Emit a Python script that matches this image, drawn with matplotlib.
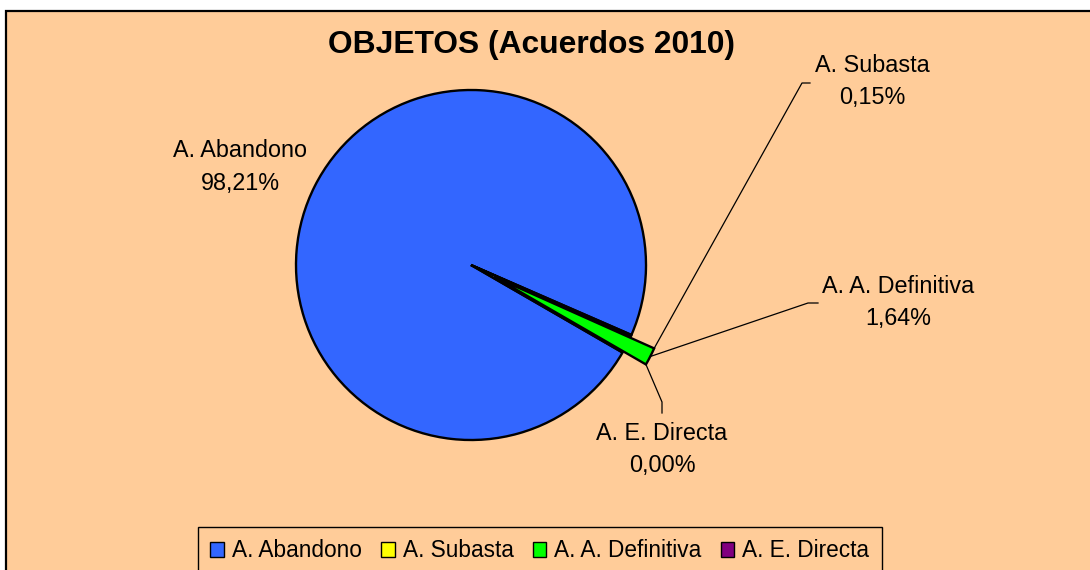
import matplotlib
matplotlib.use("Agg")
import matplotlib.pyplot as plt
from matplotlib.patches import Rectangle
import numpy as np

plt.rcParams['font.family'] = ['Liberation Sans', 'DejaVu Sans']

# datos
categorias = ['A. Abandono', 'A. Subasta', 'A. A. Definitiva', 'A. E. Directa']
porcentajes = [98.21, 0.15, 1.64, 0.00]
colores = ['#3366FF', '#FFFF00', '#00FF00', '#800080']
titulo = 'OBJETOS (Acuerdos 2010)'

W, H = 1090, 570
fig = plt.figure(figsize=(W / 100, H / 100), dpi=100)
fig.patch.set_facecolor('white')

ax = fig.add_axes([0, 0, 1, 1])
ax.patch.set_alpha(0)

# area del grafico (fondo salmon con borde)
ax.add_patch(Rectangle((6, -50), W + 100, H - 11 + 50, facecolor='#FFCC99',
                       edgecolor='black', linewidth=1.6, zorder=0, clip_on=False))

cx, cy, r = 471, H - 265, 175
wedges, _ = ax.pie(porcentajes, colors=colores, startangle=-30, counterclock=False,
                   explode=[0, 0, 0.15 * r, 0], center=(cx, cy), radius=r,
                   wedgeprops={'edgecolor': 'black', 'linewidth': 1.7, 'zorder': 2})
ax.set_xlim(0, W)
ax.set_ylim(0, H)
ax.set_aspect('auto')
ax.axis('off')

# puntos de anclaje de las lineas guia (sobre el borde exterior del sector verde)
wd = wedges[2]
wx, wy = wd.center
def borde(ang):
    return wx + wd.r * np.cos(np.radians(ang)), wy + wd.r * np.sin(np.radians(ang))

t1, t2 = wd.theta1, wd.theta2
anclas = {1: borde(t2), 2: borde((t1 + t2) / 2), 3: borde(t1)}
codos = {1: [(802, H - 83), (810, H - 83)],
         2: [(808, H - 303), (818, H - 303)],
         3: [(662, H - 402), (662, H - 413)]}
for i, p in anclas.items():
    xs = [p[0]] + [c[0] for c in codos[i]]
    ys = [p[1]] + [c[1] for c in codos[i]]
    ax.plot(xs, ys, color='black', linewidth=0.9, zorder=3)

# etiquetas: (centro x, linea base 1, linea base 2) en pixeles
pos_etq = [(240, 157, 190), (872, 72, 104), (898, 293, 325), (662, 440, 472)]
for nombre, v, (x, b1, b2) in zip(categorias, porcentajes, pos_etq):
    ax.text(x, H - b1, nombre, ha='center', va='baseline', fontsize=16.8, zorder=4)
    ax.text(x, H - b2, f'{v:.2f}%'.replace('.', ','), ha='center', va='baseline',
            fontsize=16.8, zorder=4)

ax.text(531, H - 53, titulo, ha='center', va='baseline', fontsize=22.9, fontweight='bold')

leg = fig.legend(wedges, categorias, loc='upper left', bbox_to_anchor=(198 / W, 1 - 527 / H),
                 bbox_transform=fig.transFigure, ncol=4, fontsize=16.3, frameon=True,
                 fancybox=False, edgecolor='black', facecolor='#FFCC99', framealpha=1,
                 borderaxespad=0, borderpad=0.55, handlelength=0.6, handleheight=0.6,
                 handletextpad=0.35, columnspacing=0.85)
leg.get_frame().set_linewidth(1.0)
for h in leg.legend_handles:
    h.set_linewidth(1.0)

fig.savefig('out.png', dpi=100)
